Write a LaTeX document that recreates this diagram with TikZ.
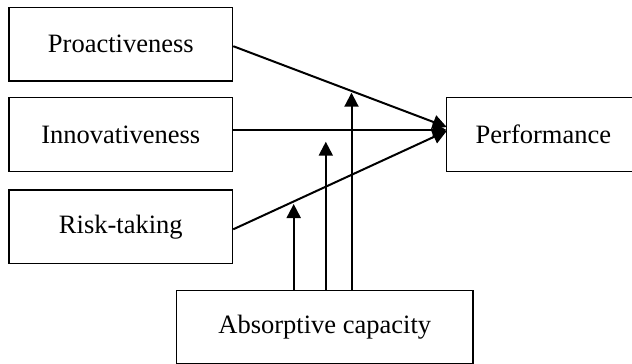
\documentclass[tikz,border=0pt]{standalone}
\usepackage{fontspec}
\setmainfont{Liberation Serif}
\usetikzlibrary{arrows.meta}
\begin{document}
\begin{tikzpicture}[x=1pt,y=-1pt,
  box/.style={draw, line width=1.3pt, inner sep=0pt, font=\fontsize{26.5}{30}\selectfont},
  conn/.style={line width=2pt, -{Triangle[length=14pt,width=14pt]}}]
\useasboundingbox (0,0) rectangle (632,364);
\clip (0,0) rectangle (632,364);
\node[box, minimum width=223.6pt, minimum height=73.7pt] (pro) at (120.8,44.2) {Proactiveness};
\node[box, minimum width=223.6pt, minimum height=73.6pt] (inn) at (120.8,134.5) {Innovativeness};
\node[box, minimum width=223.6pt, minimum height=73.7pt] (risk) at (120.8,226.9) {Risk-taking};
\node[box, minimum width=193.3pt, minimum height=73.6pt] (perf) at (543.4,134.5) {Performance};
\node[box, minimum width=296.5pt, minimum height=73.2pt] (abs) at (324.8,327) {Absorptive capacity};
\coordinate (p1) at (446.7,127);
\coordinate (p2) at (446.7,130);
\coordinate (p3) at (446.7,131);
\draw[conn] ([yshift=-2pt]pro.east) -- (p1);
\draw[conn] (inn.east |- p2) -- (p2);
\draw[conn] ([yshift=-2.4pt]risk.east) -- (p3);
\coordinate (v1) at (293.7,204);
\coordinate (v2) at (325.8,141.7);
\coordinate (v3) at (351.5,92.7);
\draw[conn] (abs.north -| v1) -- (v1);
\draw[conn] (abs.north -| v2) -- (v2);
\draw[conn] (abs.north -| v3) -- (v3);
\end{tikzpicture}
\end{document}
